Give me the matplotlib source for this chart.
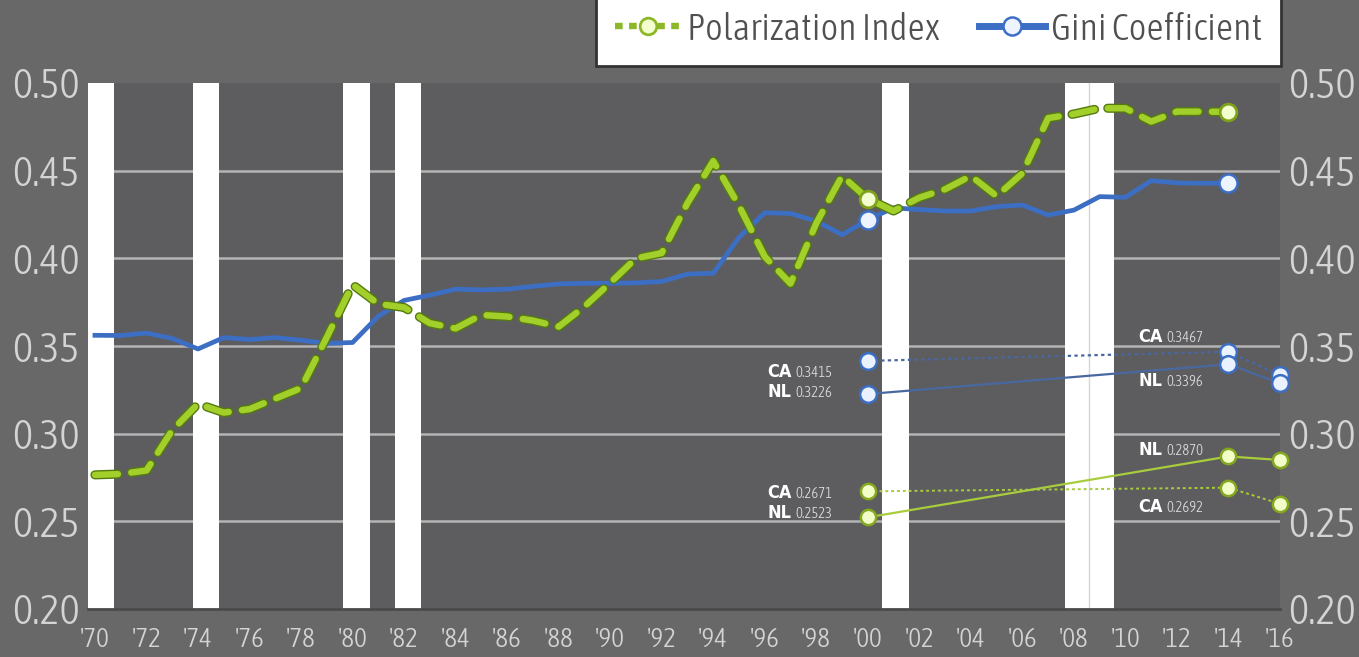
import os
import numpy as np
import matplotlib
matplotlib.use('Agg')
import matplotlib.pyplot as plt
import matplotlib.font_manager as fm
import matplotlib.patheffects as pe
from matplotlib.lines import Line2D

# national series, 1970-2014
years = np.arange(1970, 2015)
polarization = [0.2765, 0.277, 0.279, 0.302, 0.317, 0.312, 0.314, 0.320, 0.326, 0.355,
                0.385, 0.374, 0.372, 0.363, 0.360, 0.3677, 0.3668, 0.3645, 0.361, 0.3725,
                0.386, 0.400, 0.403, 0.4315, 0.4555, 0.430, 0.401, 0.3856, 0.420, 0.447,
                0.4340, 0.427, 0.4346, 0.4394, 0.447, 0.4355, 0.4485, 0.480, 0.4823, 0.4856,
                0.4856, 0.478, 0.4837, 0.4837, 0.4835]
gini = [0.3561, 0.356, 0.3574, 0.3543, 0.3483, 0.3548, 0.3537, 0.3548, 0.3533, 0.3515,
        0.352, 0.367, 0.376, 0.379, 0.3824, 0.382, 0.3824, 0.384, 0.3854, 0.3858,
        0.3858, 0.386, 0.3868, 0.391, 0.3915, 0.412, 0.426, 0.4256, 0.4212, 0.4135,
        0.422, 0.4288, 0.4278, 0.427, 0.427, 0.4295, 0.4304, 0.4247, 0.4275, 0.4352,
        0.4348, 0.4443, 0.443, 0.4428, 0.4430]
marked_years = [2000, 2014]

# state values
state_years = [2000, 2014, 2016]
ca_gini = [0.3415, 0.3467, 0.3333]
nl_gini = [0.3226, 0.3396, 0.3287]
ca_pol = [0.2671, 0.2692, 0.2600]
nl_pol = [0.2523, 0.2870, 0.2850]

recessions = [(1969.6, 1970.74), (1973.80, 1974.81), (1979.61, 1980.66),
              (1981.63, 1982.67), (2000.54, 2001.59), (2007.64, 2009.57)]

xticks = list(range(1970, 2017, 2))
xlabels = ["'%02d" % (y % 100) for y in xticks]
yticks = [0.20, 0.25, 0.30, 0.35, 0.40, 0.45, 0.50]

GREEN = '#a3cf2a'
GREEN_DARK = '#557a12'
BLUE = '#3c6ec4'
STATE_BLUE = '#4a68a0'
STATE_GREEN = '#a9cc3c'
LABEL = '#d4d4d4'


def pick_font():
    # look for a narrow / condensed face, light first
    best, best_score = None, -1
    for f in fm.fontManager.ttflist:
        b = os.path.basename(f.fname).lower()
        if not ('condensed' in b or 'narrow' in b):
            continue
        if any(k in b for k in ('bold', 'italic', 'oblique', 'black', 'medium', 'extra', 'ultra',
                                'mono', 'serif', 'thin', 'cjk', 'display')):
            continue
        score = 1
        if 'light' in b:
            score += 2
        if 'semi' in b:
            score -= 1
        if score > best_score:
            best, best_score = f.fname, score
    if best:
        return fm.FontProperties(fname=best)
    return fm.FontProperties(family=['Liberation Sans', 'DejaVu Sans'])


def pick_bold():
    for f in fm.fontManager.ttflist:
        b = os.path.basename(f.fname).lower()
        if ('condensed' in b or 'narrow' in b) and 'bold' in b and not any(
                k in b for k in ('italic', 'oblique', 'extra', 'semi', 'ultra', 'mono', 'serif', 'cjk', 'display')):
            return fm.FontProperties(fname=f.fname)
    return fm.FontProperties(family=['Liberation Sans', 'DejaVu Sans'], weight='bold')


FP = pick_font()
FPB = pick_bold()

fig = plt.figure(figsize=(13.59, 6.57), dpi=100)
fig.patch.set_facecolor('#686868')
renderer = fig.canvas.get_renderer()


def fit(s, width_px, max_size):
    t = fig.text(0, 0, s, fontproperties=FP, fontsize=10)
    w = t.get_window_extent(renderer).width
    t.remove()
    return min(max_size, 10 * width_px / w)


ysize = fit('0.50', 68, 32)
xsize = fit("'70", 30, 22)
legsize = fit('Polarization Index', 252, 30)

ax = fig.add_axes([88 / 1359, 1 - 609 / 657, (1280 - 88) / 1359, (609 - 83) / 657])
ax.set_facecolor('#5d5d5f')

for s, e in recessions:
    ax.axvspan(s, e, color='white', zorder=1, lw=0)
ax.axvline(2008.57, color='#d6d6d6', lw=1, zorder=1.5)

for y in yticks[1:-1]:
    ax.axhline(y, color='#b4b4b4', lw=1.8, zorder=0.5)

# state comparison lines
ax.plot(state_years, ca_gini, color=STATE_BLUE, lw=1.6, ls=(0, (1.5, 1.5)), zorder=2, clip_on=False)
ax.plot(state_years, nl_gini, color=STATE_BLUE, lw=1.6, zorder=2, clip_on=False)
ax.plot(state_years, ca_pol, color=STATE_GREEN, lw=1.4, ls=(0, (1.5, 1.5)), zorder=2, clip_on=False)
ax.plot(state_years, nl_pol, color=STATE_GREEN, lw=1.6, zorder=2, clip_on=False)
for vals in (ca_gini, nl_gini):
    ax.plot(state_years, vals, ls='none', marker='o', ms=12, mfc='#eaf2ff', mec=BLUE, mew=1.8,
            zorder=5, clip_on=False)
for vals in (ca_pol, nl_pol):
    ax.plot(state_years, vals, ls='none', marker='o', ms=11, mfc='#f2fdc8', mec='#84a81e', mew=1.8,
            zorder=5, clip_on=False)

# national lines
ax.plot(years, gini, color=BLUE, lw=3.4, zorder=3, solid_joinstyle='round')
ax.plot(years, polarization, color=GREEN, lw=4.6, ls=(0, (3.6, 2.1)), dash_capstyle='round',
        zorder=4, path_effects=[pe.Stroke(linewidth=6.6, foreground=GREEN_DARK), pe.Normal()])
idx = [list(years).index(y) for y in marked_years]
ax.plot(marked_years, [gini[i] for i in idx], ls='none', marker='o', ms=13, mfc='#eef4ff',
        mec=BLUE, mew=1.8, zorder=6)
ax.plot(marked_years, [polarization[i] for i in idx], ls='none', marker='o', ms=12, mfc='#f4ffd0',
        mec='#7fa21a', mew=2, zorder=6)


def tag(x, y, state, val, dy, dx):
    ax.annotate(state, (x, y), xytext=(dx - 4, dy), textcoords='offset pixels', ha='right',
                va='center', color='white', fontproperties=FPB, fontsize=13, zorder=7)
    ax.annotate('%.4f' % val, (x, y), xytext=(dx, dy - 1), textcoords='offset pixels', ha='left',
                va='center', color='#dcdcdc', fontproperties=FP, fontsize=10.5, zorder=7)


tag(2000, ca_gini[0], 'CA', ca_gini[0], -11, -72)
tag(2000, nl_gini[0], 'NL', nl_gini[0], 2, -72)
tag(2014, ca_gini[1], 'CA', ca_gini[1], 15, -62)
tag(2014, nl_gini[1], 'NL', nl_gini[1], -17, -62)
tag(2000, ca_pol[0], 'CA', ca_pol[0], -2, -72)
tag(2000, nl_pol[0], 'NL', nl_pol[0], 4, -72)
tag(2014, nl_pol[1], 'NL', nl_pol[1], 6, -62)
tag(2014, ca_pol[1], 'CA', ca_pol[1], -19, -62)

ax.set_xlim(1969.73, 2015.93)
ax.set_ylim(0.20, 0.50)
ax.set_xticks(xticks)
ax.set_xticklabels(xlabels)
ax.set_yticks(yticks)
ax.set_yticklabels(['%.2f' % v for v in yticks])
ax.tick_params(axis='y', length=0, labelcolor=LABEL, labelright=True, pad=6)
ax.tick_params(axis='x', length=0, labelcolor=LABEL, pad=13)
for tk in ax.yaxis.get_major_ticks():
    for lab in (tk.label1, tk.label2):
        lab.set_fontproperties(FP)
        lab.set_fontsize(ysize)
for lab in ax.get_xticklabels():
    lab.set_fontproperties(FP)
    lab.set_fontsize(xsize)
for side in ('top', 'right', 'left'):
    ax.spines[side].set_visible(False)
ax.spines['bottom'].set_color('#4a4a4a')
ax.spines['bottom'].set_linewidth(2)
ax.spines['bottom'].set_zorder(2)

handles = [
    Line2D([], [], color='#8cb827', lw=4.6, ls=(0, (1.2, 1.0)), marker='o', ms=12, mfc='#f4ffd0',
           mec='#8cb827', mew=2),
    Line2D([], [], color=BLUE, lw=5, marker='o', ms=13, mfc='#eef4ff', mec=BLUE, mew=1.8),
]
legfp = FP.copy()
legfp.set_size(legsize)
leg = fig.legend(handles, ['Polarization Index', 'Gini Coefficient'], loc='upper right',
                 bbox_to_anchor=(1281 / 1359, 1.011), ncol=2, prop=legfp, frameon=True,
                 fancybox=False, framealpha=1, handlelength=1.75, handletextpad=0.15,
                 columnspacing=1.05, borderpad=0.5, borderaxespad=0)
leg.get_frame().set_facecolor('white')
leg.get_frame().set_edgecolor('#333333')
leg.get_frame().set_linewidth(2)
for t in leg.get_texts():
    t.set_color('#505050')

fig.savefig('out.png', dpi=100, facecolor=fig.get_facecolor())
